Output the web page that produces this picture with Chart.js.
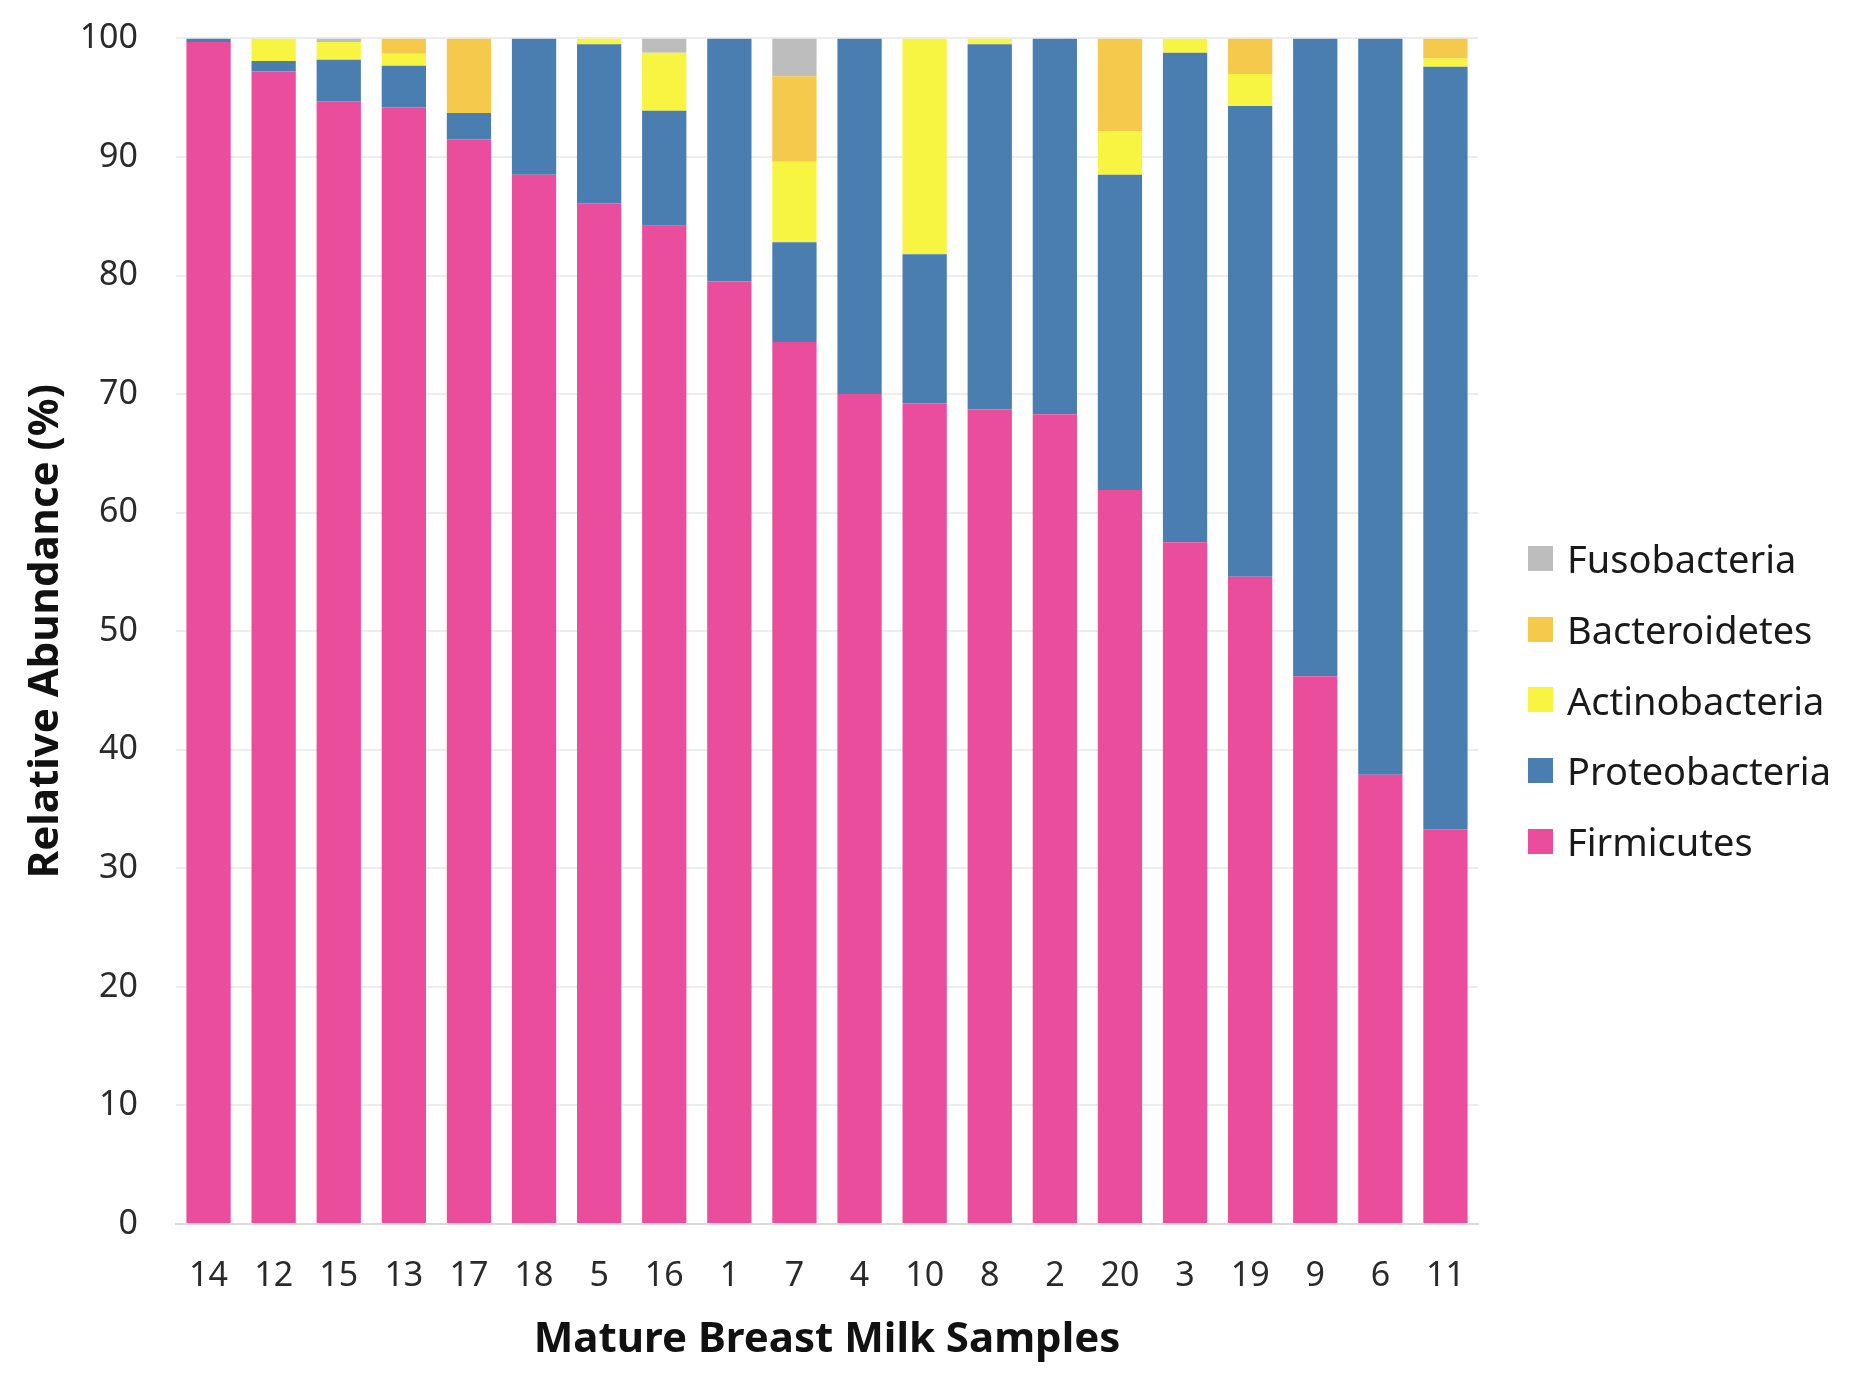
<!DOCTYPE html>
<html>
<head>
<meta charset="utf-8">
<script src="https://cdn.jsdelivr.net/npm/chart.js@4.4.1/dist/chart.umd.min.js"></script>
<style>
  html, body { margin: 0; padding: 0; background: #fff; }
  #wrap { position: relative; width: 1857px; height: 1373px; }
  #legend { position: absolute; left: 1528px; top: 523px; font-family: "Noto Sans", sans-serif; font-size: 38px; color: #1a1a1a; }
  #legend .item { display: flex; align-items: center; height: 70.7px; }
  #legend .box { width: 25px; height: 25px; margin-right: 14px; }
</style>
</head>
<body>
<div id="wrap">
  <canvas id="chart" width="1857" height="1373"></canvas>
  <div id="legend"></div>
</div>
<script>
// -----------------------------------------------------------------
// data (% relative abundance per sample)
const samples = ['14', '12', '15', '13', '17', '18', '5', '16', '1', '7', '4', '10', '8', '2', '20', '3', '19', '9', '6', '11'];

const firmicutes     = [99.7, 97.2, 94.7, 94.2, 91.5, 88.5, 86.1, 84.2, 79.5, 74.4, 70.0, 69.2, 68.7, 68.3, 61.9, 57.5, 54.6, 46.2, 37.9, 33.3];
const proteobacteria = [0.3, 0.9, 3.5, 3.5, 2.2, 11.5, 13.4, 9.7, 20.5, 8.4, 30.0, 12.6, 30.8, 31.7, 26.6, 41.3, 39.7, 53.8, 62.1, 64.3];
const actinobacteria = [0, 1.9, 1.5, 1.0, 0, 0, 0.5, 4.9, 0, 6.8, 0, 18.2, 0.5, 0, 3.7, 1.2, 2.7, 0, 0, 0.7];
const bacteroidetes  = [0, 0, 0, 1.3, 6.3, 0, 0, 0, 0, 7.2, 0, 0, 0, 0, 7.8, 0, 3.0, 0, 0, 1.7];
const fusobacteria   = [0, 0, 0.3, 0, 0, 0, 0, 1.2, 0, 3.2, 0, 0, 0, 0, 0, 0, 0, 0, 0, 0];

const yTicks = [0, 10, 20, 30, 40, 50, 60, 70, 80, 90, 100];

// -----------------------------------------------------------------
// series
const series = [
  { label: 'Firmicutes', data: firmicutes, color: '#EA4D9B' },
  { label: 'Proteobacteria', data: proteobacteria, color: '#4A7DB0' },
  { label: 'Actinobacteria', data: actinobacteria, color: '#F8F542' },
  { label: 'Bacteroidetes', data: bacteroidetes, color: '#F5C94C' },
  { label: 'Fusobacteria', data: fusobacteria, color: '#BDBDBD' },
];

const font = '"Noto Sans", sans-serif';

const chartOptions = {
  type: 'bar',
  data: {
    labels: samples,
    datasets: series.map((s) => ({
      label: s.label,
      data: s.data,
      backgroundColor: s.color,
      borderWidth: 0,
      barPercentage: 0.68,
      categoryPercentage: 1,
    })),
  },
  options: {
    responsive: false,
    animation: false,
    devicePixelRatio: 1,
    layout: { padding: { left: 10, right: 379, top: 0, bottom: 0 } },
    plugins: {
      legend: { display: false },
      tooltip: { enabled: false },
    },
    scales: {
      x: {
        stacked: true,
        afterFit: (axis) => { axis.height = 149; },
        grid: { display: false, drawTicks: false },
        border: { color: '#d9d9d9', width: 2 },
        ticks: { color: '#2a2a2a', font: { family: font, size: 34 }, padding: 32, maxRotation: 0 },
        title: {
          display: true,
          text: 'Mature Breast Milk Samples',
          color: '#111',
          font: { family: font, size: 42, weight: 'bold' },
          padding: { top: 0, bottom: 8 },
        },
      },
      y: {
        stacked: true,
        min: 0,
        max: 100,
        afterFit: (axis) => { axis.width = 166; },
        afterBuildTicks: (axis) => { axis.ticks = yTicks.map((v) => ({ value: v })); },
        // invisible tick marks keep the label gap without pushing the plot top down
        grid: { color: '#ececec', lineWidth: 2, drawTicks: true, tickLength: 20, tickColor: 'rgba(0,0,0,0)' },
        border: { display: false },
        ticks: { color: '#2a2a2a', font: { family: font, size: 34 }, padding: 18 },
        title: {
          display: true,
          text: 'Relative Abundance (%)',
          color: '#111',
          font: { family: font, size: 42, weight: 'bold' },
          padding: { top: 11, bottom: 0 },
        },
      },
    },
  },
};

const chart = new Chart(document.getElementById('chart').getContext('2d'), chartOptions);

// legend, top item = last series
const legend = document.getElementById('legend');
series.slice().reverse().forEach((s) => {
  const item = document.createElement('div');
  item.className = 'item';
  item.innerHTML = '<span class="box" style="background:' + s.color + '"></span><span>' + s.label + '</span>';
  legend.appendChild(item);
});
</script>
</body>
</html>
